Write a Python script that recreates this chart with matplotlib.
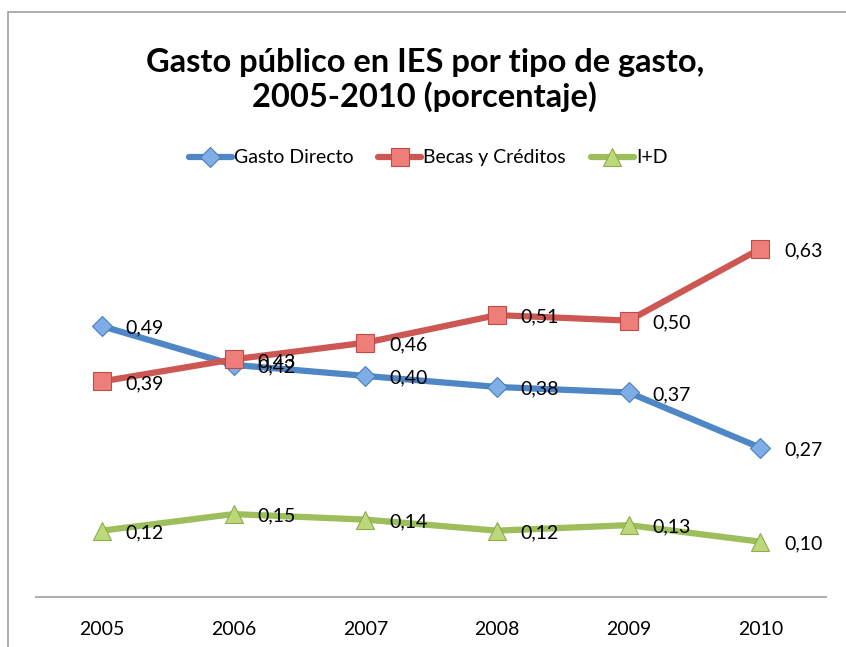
import numpy as np
import matplotlib
matplotlib.use("Agg")
import matplotlib.pyplot as plt
from matplotlib.patches import Rectangle

plt.rcParams['font.family'] = ['Lato', 'DejaVu Sans']

# datos
anios = ["2005", "2006", "2007", "2008", "2009", "2010"]
gasto_directo = [0.49, 0.42, 0.40, 0.38, 0.37, 0.27]
becas_creditos = [0.39, 0.43, 0.46, 0.51, 0.50, 0.63]
i_mas_d = [0.12, 0.15, 0.14, 0.12, 0.13, 0.10]

series = [
    ("Gasto Directo", gasto_directo, "#4F86C6", "#7FAEE6", "#4A7EBB", "D", 10.5),
    ("Becas y Créditos", becas_creditos, "#CD5753", "#EE7E79", "#BE4B48", "s", 13),
    ("I+D", i_mas_d, "#9DBE5A", "#BCD87A", "#8CAD4A", "^", 13),
]

fig = plt.figure(figsize=(8.46, 6.47), dpi=100)
ax = fig.add_axes([0.0426, 0.0773, 0.934, 0.598])

x = np.arange(len(anios))
for nombre, vals, col, fill, edge, mk, ms in series:
    ax.plot(x, vals, color=col, lw=4.5, marker=mk, markersize=ms,
            markerfacecolor=fill, markeredgecolor=edge, markeredgewidth=0.8,
            label=nombre, solid_capstyle="round", zorder=3)
    for xi, v in zip(x, vals):
        ax.annotate(("%.2f" % v).replace(".", ","), (xi, v), xytext=(17, -1.5),
                    textcoords="offset points", ha="left", va="center",
                    fontsize=14, color="black", zorder=5)

ax.set_xlim(-0.5, len(anios) - 0.5)
ax.set_ylim(0, 0.7)
ax.set_xticks(x)
ax.set_xticklabels(anios, fontsize=14)
ax.tick_params(axis="x", length=0, pad=17)
ax.set_yticks([])
for s in ["top", "right", "left"]:
    ax.spines[s].set_visible(False)
ax.spines["bottom"].set_color("#B0B0B0")
ax.spines["bottom"].set_linewidth(1.5)

fig.text(0.502, 0.876, "Gasto público en IES por tipo de gasto,\n2005-2010 (porcentaje)",
         ha="center", va="center", fontsize=23.5, fontweight="bold", linespacing=1.15)

fig.legend(loc="center", bbox_to_anchor=(0.506, 0.756), ncol=3, frameon=False,
           fontsize=14, handlelength=2.2, handletextpad=0.1, columnspacing=1.3)

fig.patches.append(Rectangle((8 / 846, -0.1), 1.2, 1 - 12 / 647 + 0.1,
                             transform=fig.transFigure, fill=False,
                             edgecolor="#A0A0A0", lw=1.2))

fig.savefig("out.png", dpi=100)
